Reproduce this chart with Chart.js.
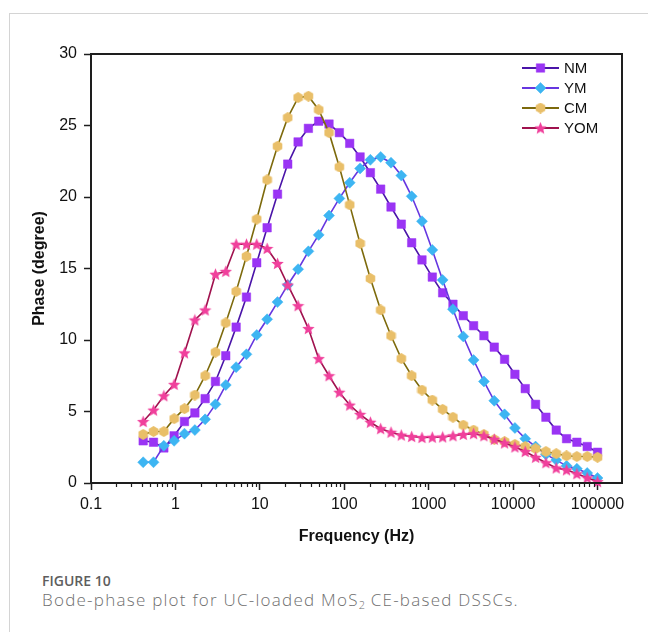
<!DOCTYPE html>
<html>
<head>
<meta charset="utf-8">
<script src="https://cdn.jsdelivr.net/npm/chart.js@4.4.1/dist/chart.umd.min.js"></script>
<style>
  html, body { margin: 0; padding: 0; background: #fff; }
  body { width: 648px; height: 632px; position: relative; overflow: hidden; }
  .frame { position: absolute; left: 9px; top: 13px; right: 0; bottom: 0;
           border-left: 1px solid #d4d4d4; border-top: 1px solid #d4d4d4; }
  #wrap { position: absolute; left: 0; top: 0; width: 648px; height: 560px; }
  .fig-no { position: absolute; left: 42px; top: 571px; font: 600 14px "Open Sans", sans-serif;
            color: #5e5e5e; }
  .fig-cap { position: absolute; left: 42px; top: 588px; font: 300 17px "Open Sans", sans-serif;
             color: #6f6f6f; white-space: nowrap; letter-spacing: 1.25px; }
  .fig-cap sub { font-size: 11px; vertical-align: -3px; line-height: 0; letter-spacing: 0; }
</style>
</head>
<body>
<div class="frame"></div>
<div id="wrap"><canvas id="bodeChart" width="648" height="560"></canvas></div>
<div class="fig-no">FIGURE 10</div>
<div class="fig-cap">Bode-phase plot for UC-loaded MoS<sub>2</sub> CE-based DSSCs.</div>

<script>
// frequencies (Hz), low to high
const frequencies = [
  0.415, 0.550, 0.729, 0.966, 1.28, 1.70, 2.25, 2.98, 3.95, 5.24,
  6.94, 9.19, 12.2, 16.2, 21.4, 28.4, 37.6, 49.8, 66.0, 87.5,
  116, 154, 204, 270, 358, 474, 629, 833, 1104, 1463,
  1939, 2570, 3406, 4513, 5983, 7929, 10508, 13927, 18458, 24460,
  32420, 42965, 56940, 75470, 100000
];

// phase (degree) for each sample
const phaseNM = [
  2.95, 2.85, 2.45, 3.3, 4.3, 4.9, 5.9, 7.1, 8.9, 10.9,
  13.0, 15.4, 17.85, 20.2, 22.3, 23.85, 24.8, 25.3, 25.1, 24.5,
  23.75, 22.8, 21.7, 20.55, 19.3, 18.1, 16.8, 15.6, 14.4, 13.3,
  12.5, 11.7, 11.0, 10.3, 9.5, 8.65, 7.6, 6.6, 5.5, 4.6,
  3.7, 3.1, 2.85, 2.55, 2.15
];
const phaseYM = [
  1.45, 1.45, 2.6, 2.95, 3.45, 3.7, 4.45, 5.5, 6.85, 8.1,
  9.0, 10.35, 11.45, 12.65, 13.85, 14.95, 16.2, 17.35, 18.7, 19.9,
  21.0, 22.0, 22.6, 22.8, 22.4, 21.5, 20.05, 18.3, 16.3, 14.2,
  12.15, 10.25, 8.6, 7.1, 5.75, 4.8, 3.85, 3.1, 2.55, 2.0,
  1.6, 1.2, 1.0, 0.7, 0.35
];
const phaseCM = [
  3.4, 3.6, 3.6, 4.5, 5.2, 6.15, 7.5, 9.15, 11.2, 13.4,
  15.85, 18.45, 21.2, 23.55, 25.55, 26.95, 27.05, 26.1, 24.5, 22.1,
  19.45, 16.75, 14.3, 12.1, 10.3, 8.7, 7.5, 6.5, 5.8, 5.15,
  4.6, 4.05, 3.7, 3.4, 3.05, 2.9, 2.7, 2.55, 2.4, 2.2,
  2.05, 1.9, 1.85, 1.85, 1.8
];
const phaseYOM = [
  4.3, 5.1, 6.1, 6.9, 9.1, 11.4, 12.1, 14.6, 14.8, 16.7,
  16.7, 16.7, 16.4, 15.35, 13.85, 12.4, 10.8, 8.7, 7.5, 6.35,
  5.45, 4.8, 4.25, 3.8, 3.55, 3.35, 3.25, 3.18, 3.2, 3.22,
  3.3, 3.4, 3.45, 3.3, 3.06, 2.8, 2.52, 2.2, 1.8, 1.42,
  1.05, 0.92, 0.65, 0.37, 0.1
];

const seriesNames = ["NM", "YM", "CM", "YOM"];
const xTickLabels = ["0.1", "1", "10", "100", "1000", "10000", "100000"];

const FONT = "'Liberation Sans', Arial, sans-serif";
const AXIS = "#1e1e1e";

// small canvases for marker shapes Chart.js does not have
function makeMarker(kind, size, fill) {
  const c = document.createElement("canvas");
  c.width = size; c.height = size;
  const g = c.getContext("2d");
  const r = size / 2;
  g.fillStyle = fill;
  g.beginPath();
  if (kind === "hex") {
    for (let k = 0; k < 6; k++) {
      const a = Math.PI / 6 + k * Math.PI / 3;
      const px = r + r * Math.cos(a), py = r + r * Math.sin(a);
      k ? g.lineTo(px, py) : g.moveTo(px, py);
    }
  } else {
    for (let k = 0; k < 10; k++) {
      const a = -Math.PI / 2 + k * Math.PI / 5;
      const rr = k % 2 ? r * 0.45 : r;
      const px = r + rr * Math.cos(a), py = r + 0.6 + rr * Math.sin(a);
      k ? g.lineTo(px, py) : g.moveTo(px, py);
    }
  }
  g.closePath();
  g.fill();
  return c;
}

const hexMarker = makeMarker("hex", 11, "#e9bf69");
const starMarker = makeMarker("star", 13, "#f0409c");

const styles = [
  { line: "#4a14a8", fill: "#9a34f4", point: "rect", radius: 6 },
  { line: "#6637e0", fill: "#3db5f2", point: "rectRot", radius: 5.5 },
  { line: "#7d6a0c", fill: "#e9bf69", point: hexMarker, radius: 5.5 },
  { line: "#a0124e", fill: "#f0409c", point: starMarker, radius: 6.5 }
];

const allPhases = [phaseNM, phaseYM, phaseCM, phaseYOM];

const datasets = allPhases.map((vals, i) => ({
  label: seriesNames[i],
  data: frequencies.map((f, j) => ({ x: f, y: vals[j] })),
  borderColor: styles[i].line,
  borderWidth: 1.6,
  backgroundColor: styles[i].fill,
  pointStyle: styles[i].point,
  pointRadius: styles[i].radius,
  pointBorderColor: styles[i].fill,
  pointBorderWidth: 0.5,
  pointBackgroundColor: styles[i].fill,
  tension: 0,
  clip: false,
  order: 3 - i
}));

// box, minor ticks and legend
const framePlugin = {
  id: "framePlugin",
  afterDraw(chart) {
    const { ctx, chartArea: a, scales } = chart;
    const x = scales.x;
    ctx.save();
    ctx.strokeStyle = AXIS;
    ctx.lineWidth = 2;
    ctx.strokeRect(a.left, a.top, a.right - a.left, a.bottom - a.top);

    // minor ticks on the log axis
    ctx.lineWidth = 1.2;
    x.ticks.forEach(t => {
      if (t.major) return;
      const px = Math.round(x.getPixelForValue(t.value)) + 0.5;
      ctx.beginPath();
      ctx.moveTo(px, a.bottom);
      ctx.lineTo(px, a.bottom + 4);
      ctx.stroke();
    });

    // legend, top right inside the box
    const lx = a.right - 100, ly = a.top + 14;
    ctx.font = "15px " + FONT;
    ctx.textBaseline = "middle";
    ctx.textAlign = "left";
    chart.data.datasets.forEach((ds, i) => {
      const y = ly + i * 20;
      ctx.strokeStyle = ds.borderColor;
      ctx.lineWidth = 2;
      ctx.beginPath();
      ctx.moveTo(lx, y);
      ctx.lineTo(lx + 37, y);
      ctx.stroke();
      ctx.fillStyle = ds.pointBackgroundColor;
      ctx.strokeStyle = ds.pointBorderColor;
      ctx.lineWidth = 0.5;
      Chart.helpers.drawPoint(ctx, {
        pointStyle: ds.pointStyle, radius: ds.pointRadius, rotation: 0, borderWidth: 0.5
      }, lx + 18.5, y);
      ctx.fillStyle = "#111";
      ctx.fillText(ds.label, lx + 42, y + 1);
    });
    ctx.restore();
  }
};

new Chart(document.getElementById("bodeChart"), {
  type: "line",
  data: { datasets },
  options: {
    responsive: false,
    animation: false,
    layout: { padding: { top: 54, right: 26, left: 0, bottom: 0 } },
    plugins: { legend: { display: false }, tooltip: { enabled: false } },
    scales: {
      x: {
        type: "logarithmic",
        min: 0.1,
        max: 195000,
        afterBuildTicks(scale) {
          const ticks = [];
          for (let e = -1; e <= 5; e++) {
            for (let m = 1; m <= 9; m++) {
              const v = m * Math.pow(10, e);
              if (v <= scale.max) ticks.push({ value: v, major: m === 1 });
            }
          }
          scale.ticks = ticks;
        },
        afterFit(scale) { scale.height = 77; },
        border: { display: false },
        grid: {
          drawOnChartArea: false,
          drawTicks: true,
          tickLength: 7,
          tickWidth: 1.5,
          tickColor: c => (c.tick && c.tick.major ? AXIS : "rgba(0,0,0,0)")
        },
        ticks: {
          autoSkip: false,
          maxRotation: 0,
          padding: 5,
          color: "#111",
          font: { family: FONT, size: 16 },
          callback(v) {
            const e = Math.log10(v);
            if (Math.abs(e - Math.round(e)) > 1e-6) return "";
            return xTickLabels[Math.round(e) + 1];
          }
        },
        title: {
          display: true,
          text: "Frequency (Hz)",
          color: "#111",
          font: { family: FONT, size: 16, weight: "bold" },
          padding: { top: 0, bottom: 14 }
        }
      },
      y: {
        min: 0,
        max: 30,
        afterFit(scale) { scale.width = 91; },
        border: { display: false },
        grid: {
          drawOnChartArea: false,
          drawTicks: true,
          tickLength: 7,
          tickWidth: 1.5,
          tickColor: AXIS
        },
        ticks: {
          stepSize: 5,
          padding: 7,
          color: "#111",
          font: { family: FONT, size: 16 }
        },
        title: {
          display: true,
          text: "Phase (degree)",
          color: "#111",
          font: { family: FONT, size: 16, weight: "bold" },
          padding: { top: 30, bottom: 0 }
        }
      }
    }
  },
  plugins: [framePlugin]
});
</script>
</body>
</html>
